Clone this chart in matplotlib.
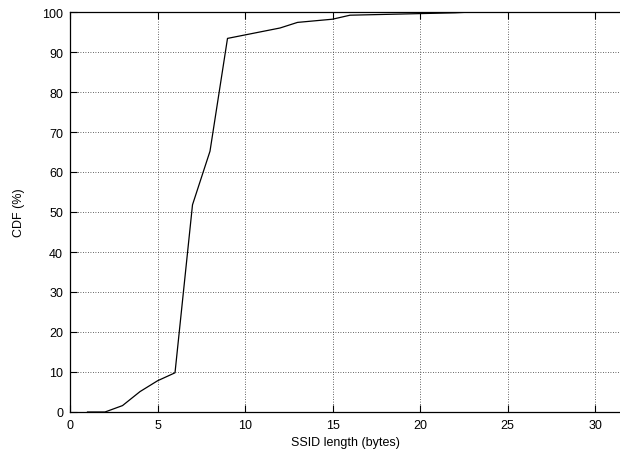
import matplotlib
matplotlib.use("Agg")
import matplotlib.pyplot as plt

ssid_len = [1, 2, 3, 4, 5, 6, 7, 8, 9, 12, 13, 15, 16, 20, 22, 23, 24]
cdf_pct = [0, 0, 1.6, 5.1, 7.8, 9.8, 51.8, 65.2, 93.4, 96.0, 97.4, 98.2, 99.2, 99.6, 99.8, 100, 100]
x_ticks = [0, 5, 10, 15, 20, 25, 30]
y_ticks = [0, 10, 20, 30, 40, 50, 60, 70, 80, 90, 100]

plt.rcParams['font.family'] = ['Liberation Sans', 'DejaVu Sans']
fig = plt.figure(figsize=(6.2, 4.6), dpi=100)
ax = fig.add_axes([70/620, 47/460, 550/620, 400/460])
ax.plot(ssid_len, cdf_pct, color='black', lw=0.9)
ax.set_xlim(0, 550/17.5)
ax.set_ylim(0, 100)
ax.set_xticks(x_ticks)
ax.set_yticks(y_ticks)
ax.grid(True, color='#333333', linestyle=(0, (1, 2)), linewidth=0.6)
ax.tick_params(direction='in', top=True, right=False, length=5, width=0.8, labelsize=9, pad=5)
ax.spines['right'].set_visible(False)
for s in ['left', 'bottom', 'top']:
    ax.spines[s].set_linewidth(0.9)
ax.set_xlabel('SSID length (bytes)', fontsize=9, labelpad=4)
ax.set_ylabel('CDF (%)', fontsize=9, labelpad=12)
fig.savefig('out.png', dpi=100)
